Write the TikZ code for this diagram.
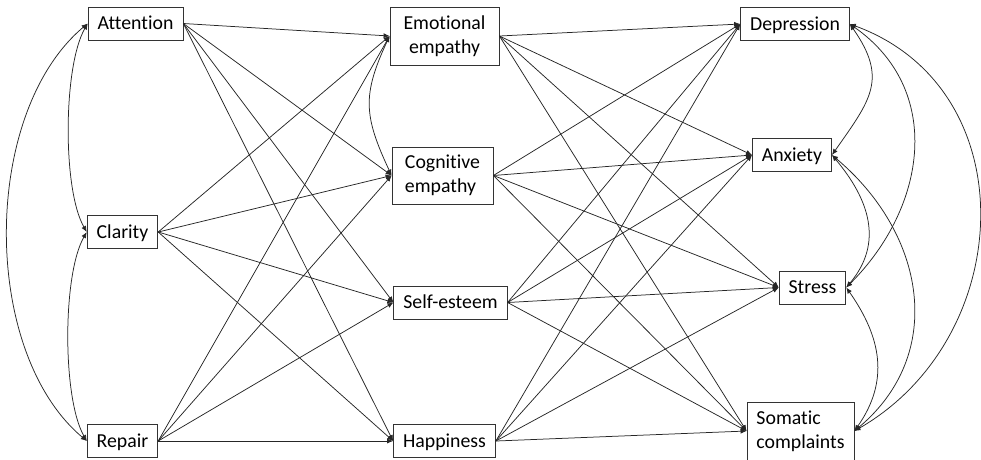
\documentclass[tikz,border=0pt]{standalone}
\usepackage{fontspec}
\setmainfont{Carlito}[Ligatures=NoCommon]
\usetikzlibrary{arrows.meta}
\tikzset{
  var/.style={draw=black!80, line width=0.8pt, inner xsep=9.5pt, inner ysep=0pt,
    minimum height=33pt, text height=16pt, text depth=3.3pt,
    font=\fontsize{19.8}{24}\selectfont},
  vartwo/.style={var, text height={}, text depth={}, minimum height=58pt},
  effect/.style={line width=0.75pt, draw=black!85, -{Latex[length=6pt,width=5pt]}},
  cov/.style={line width=0.75pt, draw=black!85, {Latex[length=6pt,width=5pt]}-{Latex[length=6pt,width=5pt]}},
}
\begin{document}
\begin{tikzpicture}[x=1pt,y=1pt]
\useasboundingbox (0,0) rectangle (981,-459);

%predictors
\node[var] (att) at (135.5,-23.5) {Attention};
\node[var] (cla) at (122.5,-232) {Clarity};
\node[var] (rep) at (122.5,-441) {Repair};
%mediators
\node[vartwo, align=center, minimum width=109pt] (emo) at (444.5,-36) {Emotional\\empathy};
\node[vartwo, align=left, minimum width=101pt, minimum height=57pt] (cog) at (442.5,-175.5) {Cognitive\\empathy};
\node[var] (self) at (450.5,-302.5) {Self-esteem};
\node[var] (hap) at (444.5,-441) {Happiness};
%outcomes
\node[var] (dep) at (795,-24) {Depression};
\node[var] (anx) at (792,-155) {Anxiety};
\node[var] (str) at (812.5,-287.5) {Stress};
\node[vartwo, align=left] (som) at (800.5,-431) {Somatic\\complaints};

%direct paths
\foreach \a in {att,cla,rep}
  \foreach \b in {emo,cog,self,hap}
    \draw[effect] (\a.east) -- (\b.west);
\foreach \a in {emo,cog,self,hap}
  \foreach \b in {dep,anx,str,som}
    \draw[effect] (\a.east) -- (\b.west);

%covariances
\draw[cov] (att.west) to[out=-120,in=120,looseness=0.6] (cla.west);
\draw[cov] (cla.west) to[out=-120,in=120,looseness=0.6] (rep.west);
\draw[cov] (att.west) to[out=-140,in=140,looseness=0.85] (rep.west);
\draw[cov] (emo.west) to[out=-115,in=115,looseness=1.2] (cog.west);
\draw[cov] (dep.east) to[out=-55,in=55,looseness=1.3] (anx.east);
\draw[cov] (dep.east) to[out=-35,in=45,looseness=1.11] (str.east);
\draw[cov] (dep.east) to[out=-20,in=30,looseness=1.18] (som.east);
\draw[cov] (anx.east) to[out=-50,in=50,looseness=1.12] (str.east);
\draw[cov] (anx.east) to[out=-40,in=40,looseness=1.12] (som.east);
\draw[cov] (str.east) to[out=-55,in=55,looseness=1.09] (som.east);
\end{tikzpicture}
\end{document}
